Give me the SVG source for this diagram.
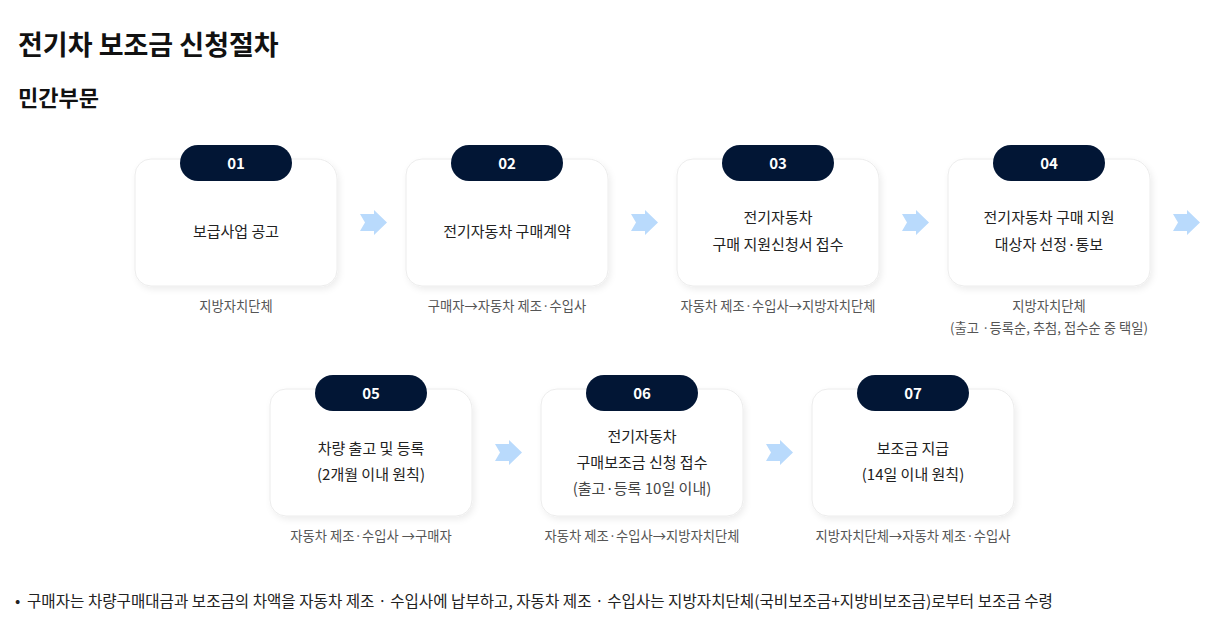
<svg xmlns="http://www.w3.org/2000/svg" width="1220" height="636" viewBox="0 0 1220 636">
<defs>
<style>
text{font-family:"Noto Sans CJK KR","Noto Sans",sans-serif}
.title{font-size:27px;font-weight:700;fill:#111}
.sub{font-size:22px;font-weight:700;fill:#111}
.card{fill:#fff;stroke:#ececec;stroke-width:1}
.pill{fill:#021635}
.num{font-size:15px;font-weight:700;fill:#fff;text-anchor:middle}
.ct{font-size:15px;fill:#222;text-anchor:middle}
.cg{font-size:15px;fill:#444;text-anchor:middle}
.lb{font-size:13.3px;fill:#555;text-anchor:middle}
.arr{fill:#b9dafc}
.note{font-size:15.6px;fill:#222}
</style>
<filter id="sh" x="-10%" y="-10%" width="130%" height="130%">
<feDropShadow dx="2" dy="3" stdDeviation="3" flood-color="#000" flood-opacity="0.07"/>
</filter>
<path id="card" d="M16,0 H182 A20,20 0 0 1 202,20 V111 A16,16 0 0 1 186,127 H16 A16,16 0 0 1 0,111 V16 A16,16 0 0 1 16,0 Z"/>
<path id="ar" class="arr" d="M0,4 H14 V0 L27,12.5 L14,25 V21 H0 L5,12.5 Z"/>
</defs>
<rect width="1220" height="636" fill="#fff"/>
<text class="title" x="18" y="55">전기차 보조금 신청절차</text>
<text class="sub" x="18" y="106">민간부문</text>

<g id="connectors">
<use href="#ar" x="360" y="210"/>
<use href="#ar" x="631" y="210"/>
<use href="#ar" x="902" y="210"/>
<use href="#ar" x="1173" y="210"/>
<use href="#ar" x="495" y="440"/>
<use href="#ar" x="766" y="440"/>
</g>

<g id="step01">
<use href="#card" x="135" y="159" class="card" filter="url(#sh)"/>
<rect class="pill" x="180" y="145" width="112" height="36" rx="18"/>
<text class="num" x="236" y="169">01</text>
<text class="ct" x="236" y="237">보급사업 공고</text>
<text class="lb" x="236" y="311">지방자치단체</text>
</g>

<g id="step02">
<use href="#card" x="406" y="159" class="card" filter="url(#sh)"/>
<rect class="pill" x="451" y="145" width="112" height="36" rx="18"/>
<text class="num" x="507" y="169">02</text>
<text class="ct" x="507" y="237">전기자동차 구매계약</text>
<text class="lb" x="507" y="311">구매자→자동차 제조·수입사</text>
</g>

<g id="step03">
<use href="#card" x="677" y="159" class="card" filter="url(#sh)"/>
<rect class="pill" x="722" y="145" width="112" height="36" rx="18"/>
<text class="num" x="778" y="169">03</text>
<text class="ct" x="778" y="223">전기자동차</text>
<text class="ct" x="778" y="250">구매 지원신청서 접수</text>
<text class="lb" x="778" y="311">자동차 제조·수입사→지방자치단체</text>
</g>

<g id="step04">
<use href="#card" x="948" y="159" class="card" filter="url(#sh)"/>
<rect class="pill" x="993" y="145" width="112" height="36" rx="18"/>
<text class="num" x="1049" y="169">04</text>
<text class="ct" x="1049" y="223">전기자동차 구매 지원</text>
<text class="ct" x="1049" y="250">대상자 선정·통보</text>
<text class="lb" x="1049" y="311">지방자치단체</text>
<text class="lb" x="1049" y="333">(출고 ·등록순, 추첨, 접수순 중 택일)</text>
</g>

<g id="step05">
<use href="#card" x="270" y="389" class="card" filter="url(#sh)"/>
<rect class="pill" x="315" y="375" width="112" height="36" rx="18"/>
<text class="num" x="371" y="399">05</text>
<text class="ct" x="371" y="454">차량 출고 및 등록</text>
<text class="ct" x="371" y="480">(2개월 이내 원칙)</text>
<text class="lb" x="371" y="541">자동차 제조·수입사 →구매자</text>
</g>

<g id="step06">
<use href="#card" x="541" y="389" class="card" filter="url(#sh)"/>
<rect class="pill" x="586" y="375" width="112" height="36" rx="18"/>
<text class="num" x="642" y="399">06</text>
<text class="ct" x="642" y="442">전기자동차</text>
<text class="ct" x="642" y="468">구매보조금 신청 접수</text>
<text class="cg" x="642" y="494">(출고·등록 10일 이내)</text>
<text class="lb" x="642" y="541">자동차 제조·수입사→지방자치단체</text>
</g>

<g id="step07">
<use href="#card" x="812" y="389" class="card" filter="url(#sh)"/>
<rect class="pill" x="857" y="375" width="112" height="36" rx="18"/>
<text class="num" x="913" y="399">07</text>
<text class="ct" x="913" y="454">보조금 지급</text>
<text class="ct" x="913" y="480">(14일 이내 원칙)</text>
<text class="lb" x="913" y="541">지방자치단체→자동차 제조·수입사</text>
</g>

<text class="note" x="15" y="607">•</text>
<text class="note" x="27" y="607">구매자는 차량구매대금과 보조금의 차액을 자동차 제조 · 수입사에 납부하고, 자동차 제조 · 수입사는 지방자치단체(국비보조금+지방비보조금)로부터 보조금 수령</text>
</svg>
